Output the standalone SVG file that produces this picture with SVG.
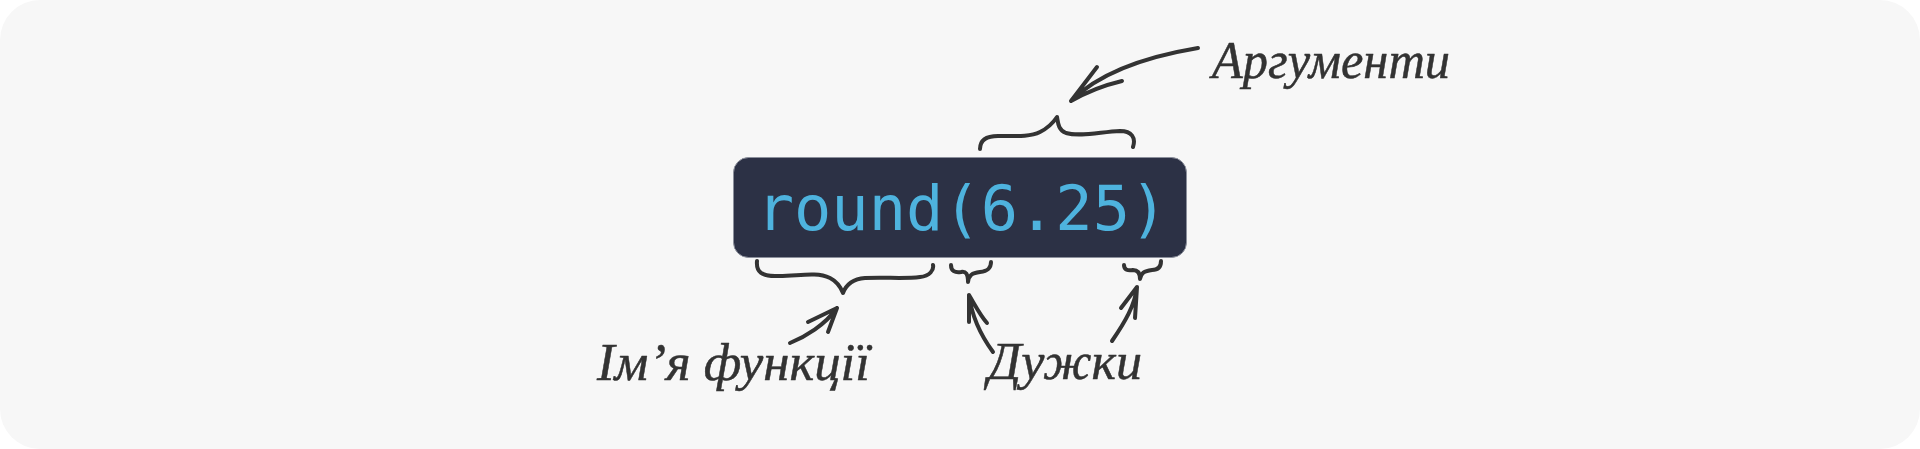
<svg xmlns="http://www.w3.org/2000/svg" width="1920" height="449" viewBox="0 0 1920 449">
<style>
.ink{fill:none;stroke:#333333;stroke-width:4;stroke-linecap:round;stroke-linejoin:round}
.hand{font-family:"Liberation Serif","DejaVu Serif",serif;font-style:italic;fill:#333333;stroke:#333333;stroke-width:0.5;stroke-linejoin:round;font-size:52px}
.code{font-family:"DejaVu Sans Mono","Liberation Mono",monospace;fill:#4eb3de;font-size:62px}
</style>
<rect x="0" y="0" width="1920" height="449" fill="#ffffff"/>
<rect x="0" y="0" width="1920" height="449" rx="40" ry="40" fill="#f7f7f7"/>
<g id="code-box">
<rect x="733.5" y="157.5" width="453" height="100" rx="15" ry="15" fill="#2c3145" stroke="#8c909c" stroke-width="1"/>
<text class="code" x="962" y="230" text-anchor="middle">round(6.25)</text>
</g>
<g id="label-args">
<text class="hand" x="1212" y="78" textLength="238" lengthAdjust="spacingAndGlyphs">Аргументи</text>
</g>
<g id="label-name">
<text class="hand" x="597" y="380" textLength="273" lengthAdjust="spacingAndGlyphs">Ім’я функції</text>
</g>
<g id="label-parens">
<text class="hand" x="988" y="379" textLength="154" lengthAdjust="spacingAndGlyphs">Дужки</text>
</g>
<g id="connectors">
<path class="ink" d="M980,149 C980,140 986,136 998,136 C1015,136 1030,137 1040,132 C1050,127 1055,120 1057,117 C1058,122 1058,130 1066,133 C1080,137 1100,132 1120,131 C1132,131 1136,138 1133,147"/>
<path class="ink" d="M757,261 C756,272 762,276 775,276 C795,277 815,271 830,278 C838,282 841,288 843,293 C846,285 852,279 865,278 C885,277 905,279 920,277 C930,276 934,270 933,265"/>
<path class="ink" d="M951,265 C951,271 955,273 961,272 C966,271 968,274 968,282 C969,275 972,273 980,272 C988,271 991,268 991,262"/>
<path class="ink" d="M1124,265 C1124,270 1128,271 1133,270 C1138,270 1140,273 1140,279 C1141,273 1144,271 1152,270 C1159,270 1161,266 1161,261"/>
<path class="ink" d="M1198,48 C1150,56 1100,72 1071,101 M1071,101 L1097,67 M1071,101 C1085,93 1105,85 1122,81"/>
<path class="ink" d="M790,343 C805,337 825,325 837,308 M837,308 L808,322 M837,308 L828,332"/>
<path class="ink" d="M993,352 C982,337 972,318 969,295 M969,295 L969,322 M969,295 C975,305 980,315 987,323"/>
<path class="ink" d="M1112,341 C1125,322 1135,305 1137,287 M1137,287 L1121,308 M1137,287 L1135,318"/>
</g>
</svg>
